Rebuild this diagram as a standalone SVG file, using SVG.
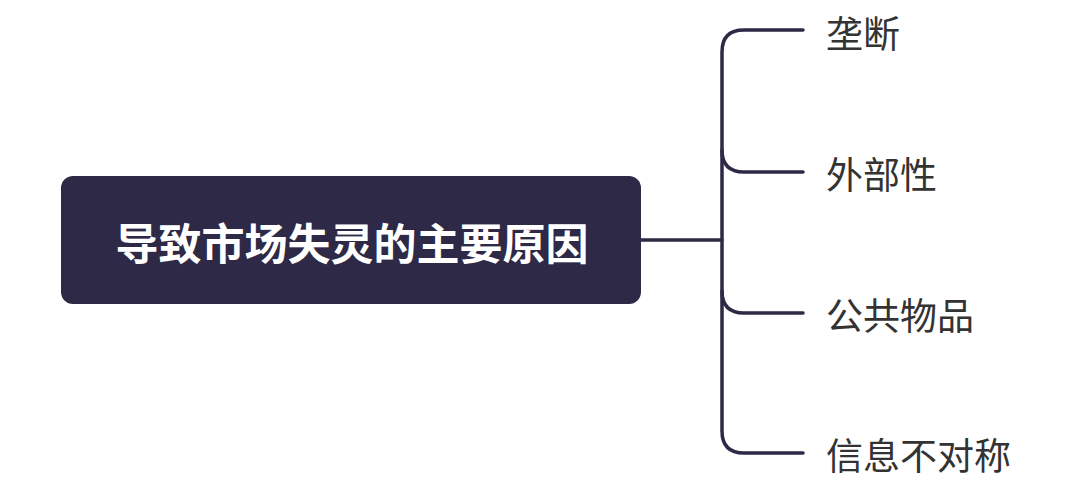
<svg xmlns="http://www.w3.org/2000/svg" width="1080" height="483" viewBox="0 0 1080 483">
<style>
.c{fill:none;stroke:#2d2946;stroke-width:3.5;stroke-linecap:round}
.t{font-family:"Noto Sans CJK SC",sans-serif;font-size:37px;fill:#333;dominant-baseline:central}
</style>
<rect width="1080" height="483" fill="#fff"/>
<g id="connectors">
<path class="c" d="M641,240 H722"/>
<path class="c" d="M803,30 H744 Q722,30 722,52 V431 Q722,453 744,453 H803"/>
<path class="c" d="M722,150 Q722,172 744,172 H803"/>
<path class="c" d="M722,291 Q722,313 744,313 H803"/>
</g>
<g id="root">
<rect x="61" y="176" width="580" height="128" rx="12" fill="#2d2946"/>
<text x="352" y="241" text-anchor="middle" font-family="Noto Sans CJK SC,sans-serif" font-size="43" font-weight="bold" fill="#fff" dominant-baseline="central">导致市场失灵的主要原因</text>
</g>
<g id="n1"><text class="t" x="826" y="32">垄断</text></g>
<g id="n2"><text class="t" x="826" y="173">外部性</text></g>
<g id="n3"><text class="t" x="826" y="314">公共物品</text></g>
<g id="n4"><text class="t" x="826" y="454">信息不对称</text></g>
</svg>
